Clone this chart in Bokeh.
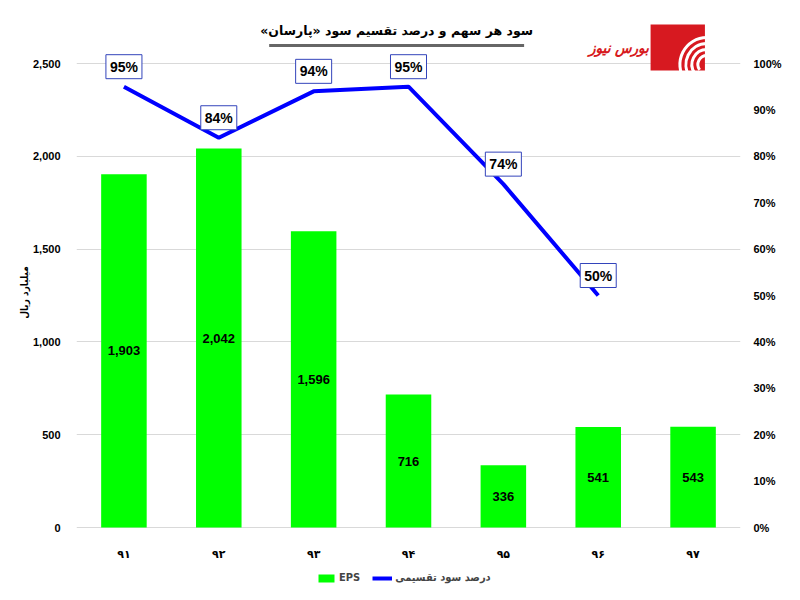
import math
from bokeh.plotting import figure
from bokeh.models import (ColumnDataSource, Range1d, LinearAxis, FixedTicker,
                          NumeralTickFormatter, PrintfTickFormatter, LabelSet, Label,
                          Legend, LegendItem)
from bokeh.core.properties import value
from bokeh.embed import file_html
from bokeh.resources import INLINE

# ---------------- data ----------------
years = ["۹۱", "۹۲", "۹۳", "۹۴", "۹۵", "۹۶", "۹۷"]
eps = [1903, 2042, 1596, 716, 336, 541, 543]
payout_years = ["۹۱", "۹۲", "۹۳", "۹۴", "۹۵", "۹۶"]
payout = [95, 84, 94, 95, 74, 50]
left_ticks = [0, 500, 1000, 1500, 2000, 2500]
right_ticks = [0, 10, 20, 30, 40, 50, 60, 70, 80, 90, 100]
title_text = "سود هر سهم و درصد تقسیم سود «پارسان»"
y_label = "میلیارد ریال"
legend_eps = "EPS"
legend_payout = "درصد سود تقسیمی"
logo_text = "بورس نیوز"

RLM = "\u200F"

# ---------------- geometry ----------------
W, H = 784, 584
frame_left, frame_right = 76, 748        # figure px
frame_top, frame_bottom = 0, 584
zero_px = 527
px_per_unit = 464.0 / 2500.0             # left axis
y_start = -(frame_bottom - zero_px) / px_per_unit
y_end = (zero_px - frame_top) / px_per_unit
px_per_pct = px_per_unit * 25.0
n = len(years)
cat_px = (frame_right - frame_left) / n

def fx(px):  # figure px -> synthetic x
    return (px - frame_left) / cat_px

def fy(py):  # figure px -> left data y
    return (zero_px - py) / px_per_unit

GREEN = "#00FF00"
BLUE = "#0000FF"
RED = "#D71920"
NUMFONT = "Liberation Sans"
FAFONT = "DejaVu Sans"
FACOND = "DejaVu Sans Condensed"

p = figure(x_range=years, y_range=Range1d(y_start, y_end), width=W, height=H,
           output_backend="svg", toolbar_location=None,
           min_border_left=frame_left, min_border_right=W - frame_right,
           min_border_top=frame_top, min_border_bottom=H - frame_bottom)
p.x_range.range_padding = 0
p.extra_y_ranges = {"pct": Range1d(y_start / 25.0, y_end / 25.0)}
p.outline_line_color = None
p.background_fill_color = "white"
p.border_fill_color = "white"

src = ColumnDataSource(dict(x=years, eps=eps, mid=[v / 2 for v in eps],
                            lbl=[f"{v:,}" for v in eps]))
bars = p.vbar(x="x", top="eps", width=0.48, source=src, color=GREEN, line_color=None)

lsrc = ColumnDataSource(dict(x=payout_years, y=payout,
                             ly=[v + 20 / px_per_pct for v in payout],
                             lbl=[f"{v}%" for v in payout]))
line = p.line(x="x", y="y", source=lsrc, y_range_name="pct", line_color=BLUE,
              line_width=4)

# bar value labels
p.add_layout(LabelSet(x="x", y="mid", text="lbl", source=src, text_align="center",
                      text_baseline="middle", text_font=value(NUMFONT),
                      text_font_style="bold", text_font_size="13px", text_color="black"))
# payout labels
p.text(x="x", y="ly", text="lbl", source=lsrc, y_range_name="pct",
       text_align="center", text_baseline="middle",
       text_font=value(NUMFONT), text_font_style="bold", text_font_size="14px",
       text_color="black", background_fill_color="white",
       border_line_color="#3344bb", border_line_width=1, padding=4)

# axes
p.yaxis.ticker = FixedTicker(ticks=left_ticks)
p.yaxis.formatter = NumeralTickFormatter(format="0,0")
p.yaxis.axis_label = y_label
p.yaxis.axis_label_text_font = FACOND
p.yaxis.axis_label_text_font_style = "bold"
p.yaxis.axis_label_text_font_size = "10px"
p.yaxis.axis_label_text_color = "black"
p.yaxis.axis_label_standoff = 0
ry = LinearAxis(y_range_name="pct", ticker=FixedTicker(ticks=right_ticks),
                formatter=PrintfTickFormatter(format="%d%%"))
p.add_layout(ry, "right")
for ax in [p.yaxis[0], ry]:
    ax.axis_line_color = None
    ax.major_tick_line_color = None
    ax.minor_tick_line_color = None
    ax.major_label_text_font = NUMFONT
    ax.major_label_text_font_style = "bold"
    ax.major_label_text_font_size = "11px"
    ax.major_label_text_color = "black"
p.yaxis.major_label_standoff = 10
ry.major_label_standoff = 7
p.xaxis.fixed_location = 0
p.xaxis.axis_line_color = None
p.xaxis.major_tick_line_color = None
p.xaxis.minor_tick_line_color = None
p.xaxis.major_label_text_font = FAFONT
p.xaxis.major_label_text_font_style = "bold"
p.xaxis.major_label_text_font_size = "11px"
p.xaxis.major_label_text_color = "black"
p.xaxis.major_label_standoff = 14
p.xgrid.grid_line_color = None
p.ygrid.ticker = FixedTicker(ticks=left_ticks)
p.ygrid.grid_line_color = "#d9d9d9"

# title
p.add_layout(Label(x=fx(400), y=fy(30), text=title_text + RLM, text_align="center",
                   text_baseline="middle", text_font=FAFONT, text_font_style="bold",
                   text_font_size="12.5px", text_color="black"))
p.segment(x0=[fx(271)], x1=[fx(529)], y0=[fy(45)], y1=[fy(45)], line_color="#666666",
          line_width=3)

# logo
p.quad(left=[fx(657)], right=[fx(712)], bottom=[fy(70)], top=[fy(24)], color=RED,
       line_color=None)
for r in [9, 15, 21, 27]:
    p.arc(x=[fx(714)], y=[fy(64)], radius=r, radius_units="screen",
          start_angle=math.pi / 2, end_angle=1.2 * math.pi, line_color="white",
          line_width=3)
p.add_layout(Label(x=fx(625), y=fy(47), text=logo_text, text_align="center",
                   text_baseline="middle", text_font=FACOND,
                   text_font_style="bold italic", text_font_size="15px", text_color=RED))

# legend
legend = Legend(items=[LegendItem(label=legend_eps, renderers=[bars]),
                       LegendItem(label=legend_payout, renderers=[line])],
                orientation="horizontal", location=(240, 0), border_line_color=None,
                background_fill_alpha=0, label_text_font=FACOND,
                label_text_font_style="bold", label_text_font_size="11px",
                glyph_width=20, glyph_height=10, spacing=12, padding=2, margin=0,
                label_standoff=3)
p.add_layout(legend, "center")

open("out.html", "w").write(file_html(p, INLINE))
